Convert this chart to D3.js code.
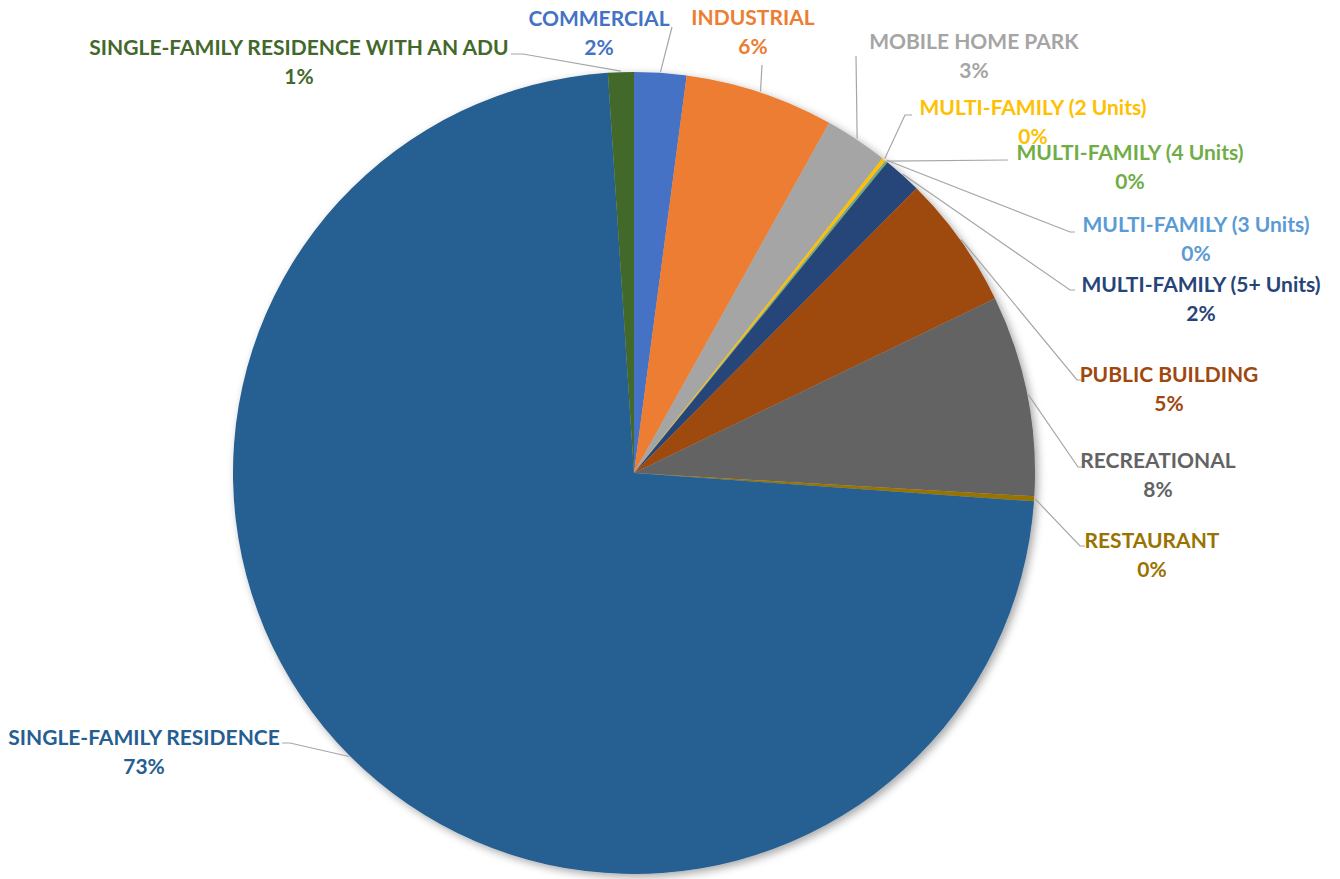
<!DOCTYPE html>
<html>
<head>
<meta charset="utf-8">
<script src="https://cdn.jsdelivr.net/npm/d3@7"></script>
<style>
  html, body { margin: 0; padding: 0; background: #fff; }
  svg { display: block; }
  text { font-family: Lato, "Open Sans", sans-serif; font-weight: 700; }
</style>
</head>
<body>
<svg id="chart" width="1340" height="879"></svg>
<script>
// Building type categories, in pie order (clockwise from 12 o'clock)
const categories = [
  "COMMERCIAL",
  "INDUSTRIAL",
  "MOBILE HOME PARK",
  "MULTI-FAMILY (2 Units)",
  "MULTI-FAMILY (3 Units)",
  "MULTI-FAMILY (4 Units)",
  "MULTI-FAMILY (5+ Units)",
  "PUBLIC BUILDING",
  "RECREATIONAL",
  "RESTAURANT",
  "SINGLE-FAMILY RESIDENCE",
  "SINGLE-FAMILY RESIDENCE WITH AN ADU"
];

// Share of each category (percent)
const shares = [2.1, 6.0, 2.55, 0.15, 0.05, 0.05, 1.55, 5.4, 8.1, 0.2, 72.9, 1.04];

// Slice / label colours
const colors = [
  "#4472C4", "#ED7D31", "#A5A5A5", "#FFC000", "#5B9BD5", "#70AD47",
  "#264478", "#9E480E", "#636363", "#997300", "#255E91", "#43682B"
];

// Label placement: [centre x, baseline of first line], plus leader-line bend points
const labelLayout = [
  { x: 599,  y: 26,  pts: [[672, 27]] },
  { x: 753,  y: 25,  pts: [[762, 65]] },
  { x: 974,  y: 49,  pts: [[856, 56]] },
  { x: 1033, y: 115, pts: [[905, 115], [912, 115]] },
  { x: 1196, y: 232, pts: [[1070, 232], [1075, 232]] },
  { x: 1130, y: 160, pts: [[1008, 160]] },
  { x: 1201, y: 292, pts: [[1070, 290], [1075, 290]] },
  { x: 1169, y: 382, pts: [[1077, 380], [1081, 380]] },
  { x: 1158, y: 468, pts: [[1078, 467], [1083, 467]] },
  { x: 1152, y: 548, pts: [[1080, 546], [1085, 546]] },
  { x: 144,  y: 745, pts: [[290, 743], [282, 743]] },
  { x: 299,  y: 55,  pts: [[523, 54], [511, 54]] }
];

const svg = d3.select("#chart");
const cx = 634, cy = 473, radius = 401;
const lineGap = 29;

const defs = svg.append("defs");
const shadow = defs.append("filter")
  .attr("id", "pieShadow")
  .attr("x", "-10%").attr("y", "-10%")
  .attr("width", "120%").attr("height", "120%");
shadow.append("feDropShadow")
  .attr("dx", 3).attr("dy", 3)
  .attr("stdDeviation", 4)
  .attr("flood-color", "#000")
  .attr("flood-opacity", 0.35);

const data = categories.map((c, i) => ({ name: c, value: shares[i], color: colors[i], layout: labelLayout[i] }));
const total = d3.sum(shares);
const pct = d3.format(".0%");

const pie = d3.pie().sort(null).value(d => d.value);
const arcs = pie(data);

const arc = d3.arc().innerRadius(0).outerRadius(radius);
const edgeArc = d3.arc().innerRadius(radius + 1).outerRadius(radius + 1);

const g = svg.append("g").attr("transform", `translate(${cx},${cy})`);

g.append("g")
  .attr("filter", "url(#pieShadow)")
  .selectAll("path")
  .data(arcs)
  .join("path")
  .attr("d", arc)
  .attr("fill", d => d.data.color);

// Leader lines
const line = d3.line();
svg.append("g")
  .selectAll("path")
  .data(arcs)
  .join("path")
  .attr("d", d => {
    const [ex, ey] = edgeArc.centroid(d);
    return line([[cx + ex, cy + ey], ...d.data.layout.pts]);
  })
  .attr("fill", "none")
  .attr("stroke", "#A6A6A6")
  .attr("stroke-width", 1.2);

// Labels: category name and percentage
const labels = svg.append("g")
  .selectAll("text")
  .data(arcs)
  .join("text")
  .attr("text-anchor", "middle")
  .attr("font-size", 21)
  .attr("fill", d => d.data.color);

labels.append("tspan")
  .attr("x", d => d.data.layout.x)
  .attr("y", d => d.data.layout.y)
  .text(d => d.data.name);

labels.append("tspan")
  .attr("x", d => d.data.layout.x)
  .attr("y", d => d.data.layout.y + lineGap)
  .text(d => pct(d.data.value / total));
</script>
</body>
</html>
